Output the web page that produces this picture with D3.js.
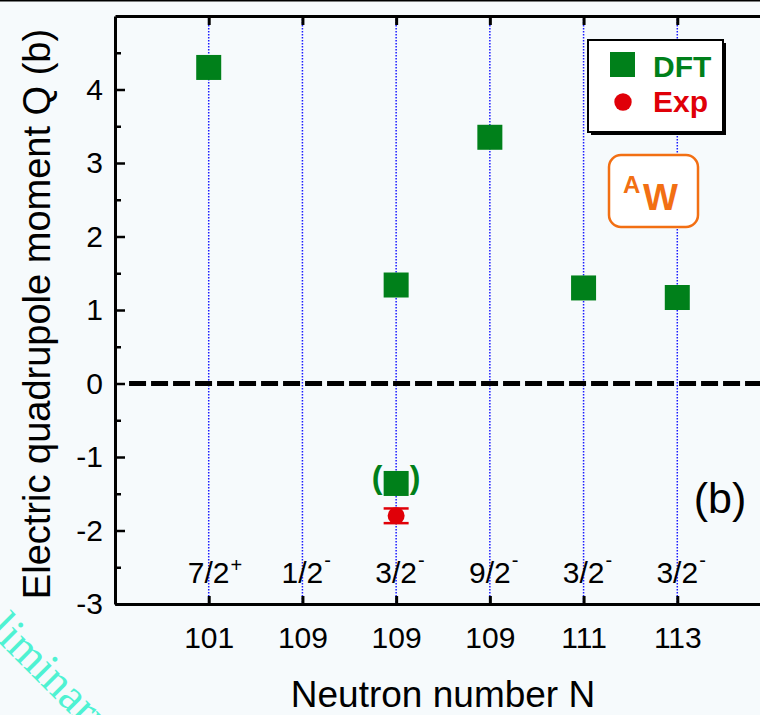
<!DOCTYPE html>
<html>
<head>
<meta charset="utf-8">
<script src="https://cdn.jsdelivr.net/npm/d3@7"></script>
<style>
  body { margin: 0; background: #f6fafc; }
  svg { display: block; font-family: "Liberation Sans", Arial, sans-serif; }
  .axis path, .axis line { stroke: #000; }
  .axis text { fill: #000; }
</style>
</head>
<body>
<div id="main"></div>
<script>
// categories along x (slots 1..6)
var slots = [1, 2, 3, 4, 5, 6];
var neutronLabels = ["101", "109", "109", "109", "111", "113"];
var spinLabels = ["7/2", "1/2", "3/2", "9/2", "3/2", "3/2"];
var parityLabels = ["+", "-", "-", "-", "-", "-"];

// DFT values (b)
var dftSlot = [1, 3, 3, 4, 5, 6];
var dftQ = [4.30, 1.34, -1.36, 3.35, 1.30, 1.17];
var dftBracket = [false, false, true, false, false, false];

// experiment
var expSlot = [3];
var expQ = [-1.80];
var expErr = [0.10];

var yMajor = [-3, -2, -1, 0, 1, 2, 3, 4];
var yMinor = [-2.5, -1.5, -0.5, 0.5, 1.5, 2.5, 3.5, 4.5];

var W = 760, H = 715;
var green = "#00801a", red = "#e00008", orange = "#f26f13";

var svg = d3.select("#main").append("svg")
    .attr("width", W)
    .attr("height", H);

var xScale = d3.scaleLinear().domain([0, 7]).range([115, 771]);
var yScale = d3.scaleLinear().domain([-3, 5]).range([604, 16]);

// thin line at the very top of the picture
svg.append("line")
    .attr("x1", 0).attr("x2", W)
    .attr("y1", 0.75).attr("y2", 0.75)
    .attr("stroke", "#000").attr("stroke-width", 1.5);

// watermark
svg.append("text")
    .attr("transform", "translate(-56,588) rotate(45)")
    .attr("font-family", "'Liberation Serif', 'DejaVu Serif', serif")
    .attr("font-size", 46)
    .attr("fill", "#4ff2d2")
    .text("Preliminary");

// vertical dotted guides
svg.selectAll(".guide")
    .data(slots)
    .enter().append("line")
    .attr("class", "guide")
    .attr("x1", function(d) { return xScale(d); })
    .attr("x2", function(d) { return xScale(d); })
    .attr("y1", yScale(5))
    .attr("y2", yScale(-3))
    .attr("stroke", "#1a1aff")
    .attr("stroke-width", 1.5)
    .attr("stroke-dasharray", "1.5,1.5");

// zero line
svg.append("line")
    .attr("x1", xScale(0.15)).attr("x2", W)
    .attr("y1", yScale(0)).attr("y2", yScale(0))
    .attr("stroke", "#000")
    .attr("stroke-width", 5)
    .attr("stroke-dasharray", "17,5");

// axes
var yAxis = d3.axisLeft(yScale).tickValues(yMajor).tickSize(-10).tickSizeOuter(0).tickPadding(12)
    .tickFormat(function(d) { return String(d); });
var yAxisMinor = d3.axisLeft(yScale).tickValues(yMinor).tickSize(-6).tickSizeOuter(0).tickFormat("");
var xAxis = d3.axisBottom(xScale).tickValues(slots).tickSize(-8).tickSizeOuter(0).tickPadding(23)
    .tickFormat(function(d) { return neutronLabels[d - 1]; });
var xAxisTop = d3.axisTop(xScale).tickValues(slots).tickSize(-9).tickSizeOuter(0).tickFormat("");

svg.append("g").attr("class", "axis")
    .attr("transform", "translate(" + xScale(0) + ",0)")
    .call(yAxisMinor)
    .call(function(g) { g.selectAll("line").attr("stroke-width", 2.5); g.select(".domain").remove(); });

svg.append("g").attr("class", "axis")
    .attr("transform", "translate(" + xScale(0) + ",0)")
    .call(yAxis)
    .call(function(g) {
      g.selectAll("line").attr("stroke-width", 2.5);
      g.select(".domain").attr("stroke-width", 3);
      g.selectAll("text").attr("font-size", 30).attr("font-family", "'Liberation Sans', Arial, sans-serif");
    });

svg.append("g").attr("class", "axis")
    .attr("transform", "translate(0," + yScale(-3) + ")")
    .call(xAxis)
    .call(function(g) {
      g.selectAll("line").attr("stroke-width", 3);
      g.select(".domain").attr("stroke-width", 3);
      g.selectAll("text").attr("font-size", 30).attr("font-family", "'Liberation Sans', Arial, sans-serif");
    });

svg.append("g").attr("class", "axis")
    .attr("transform", "translate(0," + yScale(5) + ")")
    .call(xAxisTop)
    .call(function(g) {
      g.selectAll("line").attr("stroke-width", 3);
      g.select(".domain").attr("stroke-width", 3);
    });

// spin / parity labels
var spin = svg.selectAll(".spin")
    .data(slots)
    .enter().append("g")
    .attr("class", "spin");

spin.append("text")
    .attr("x", function(d) { return xScale(d); })
    .attr("y", 583)
    .attr("text-anchor", "middle")
    .attr("font-size", 30)
    .text(function(d) { return spinLabels[d - 1]; })
    .each(function(d) {
      var w = this.getComputedTextLength();
      var p = parityLabels[d - 1];
      d3.select(this.parentNode).append("text")
        .attr("x", xScale(d) + w / 2 + 1)
        .attr("y", p === "+" ? 572 : 567)
        .attr("font-size", 20)
        .text(p);
    });

// DFT squares
var sq = 25;
svg.selectAll(".dft")
    .data(dftQ)
    .enter().append("rect")
    .attr("class", "dft")
    .attr("x", function(d, i) { return xScale(dftSlot[i]) - sq / 2; })
    .attr("y", function(d) { return yScale(d) - sq / 2; })
    .attr("width", sq)
    .attr("height", sq)
    .attr("fill", green);

// brackets around the tentative value
dftQ.forEach(function(d, i) {
  if (!dftBracket[i]) return;
  [["(", -19], [")", 19]].forEach(function(b) {
    svg.append("text")
      .attr("x", xScale(dftSlot[i]) + b[1])
      .attr("y", yScale(d) + 5)
      .attr("text-anchor", "middle")
      .attr("font-size", 32)
      .attr("font-weight", "bold")
      .attr("fill", green)
      .text(b[0]);
  });
});

// experiment with error bar
expQ.forEach(function(d, i) {
  var cx = xScale(expSlot[i]);
  svg.append("line")
    .attr("x1", cx).attr("x2", cx)
    .attr("y1", yScale(d + expErr[i])).attr("y2", yScale(d - expErr[i]))
    .attr("stroke", red).attr("stroke-width", 2.5);
  [d + expErr[i], d - expErr[i]].forEach(function(v) {
    svg.append("line")
      .attr("x1", cx - 12.5).attr("x2", cx + 12.5)
      .attr("y1", yScale(v)).attr("y2", yScale(v))
      .attr("stroke", red).attr("stroke-width", 2.5);
  });
  svg.append("circle")
    .attr("cx", cx).attr("cy", yScale(d))
    .attr("r", 8.5)
    .attr("fill", red);
});

// panel label
svg.append("text")
  .attr("x", 720).attr("y", 513)
  .attr("text-anchor", "middle")
  .attr("font-size", 43)
  .text("(b)");

// axis titles
svg.append("text")
  .attr("transform", "translate(50," + ((yScale(5) + yScale(-3)) / 2 + 4) + ") rotate(-90)")
  .attr("text-anchor", "middle")
  .attr("font-size", 38)
  .text("Electric quadrupole moment Q (b)");

svg.append("text")
  .attr("x", (xScale(0) + xScale(7)) / 2)
  .attr("y", 707)
  .attr("text-anchor", "middle")
  .attr("font-size", 37)
  .text("Neutron number N");

// legend
var legend = svg.append("g").attr("transform", "translate(588,40)");
legend.append("rect")
  .attr("x", 3).attr("y", 3).attr("width", 135).attr("height", 92)
  .attr("fill", "#000");
legend.append("rect")
  .attr("x", 0).attr("y", 0).attr("width", 135).attr("height", 92)
  .attr("fill", "#fff").attr("stroke", "#000").attr("stroke-width", 2);
legend.append("rect")
  .attr("x", 22).attr("y", 12).attr("width", 25).attr("height", 25)
  .attr("fill", green);
legend.append("text")
  .attr("x", 65).attr("y", 37)
  .attr("font-size", 30).attr("font-weight", "bold")
  .attr("fill", green).text("DFT");
legend.append("circle")
  .attr("cx", 35).attr("cy", 62).attr("r", 8.7)
  .attr("fill", red);
legend.append("text")
  .attr("x", 65).attr("y", 72)
  .attr("font-size", 30).attr("font-weight", "bold")
  .attr("fill", red).text("Exp");

// isotope box
var iso = svg.append("g").attr("transform", "translate(609,155)");
iso.append("rect")
  .attr("width", 89).attr("height", 72).attr("rx", 12)
  .attr("fill", "#fff").attr("stroke", orange).attr("stroke-width", 2.5);
iso.append("text")
  .attr("x", 14).attr("y", 38)
  .attr("font-size", 24).attr("font-weight", "bold")
  .attr("fill", orange).text("A");
iso.append("text")
  .attr("x", 34).attr("y", 55)
  .attr("font-size", 37).attr("font-weight", "bold")
  .attr("fill", orange).text("W");
</script>
</body>
</html>
